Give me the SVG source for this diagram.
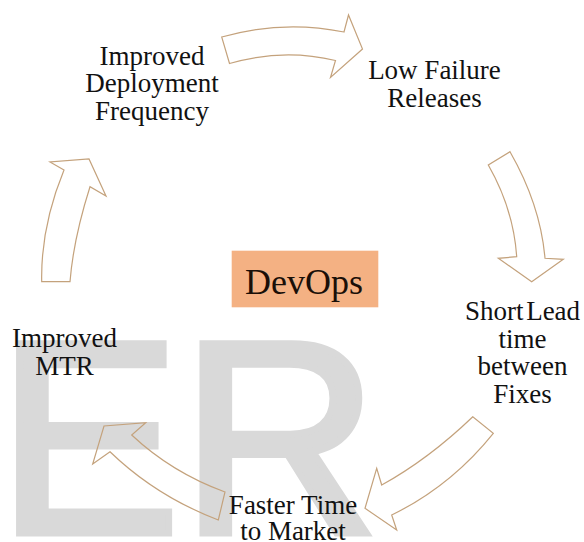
<svg xmlns="http://www.w3.org/2000/svg" width="584" height="542" viewBox="0 0 584 542">
  <defs>
    <style>
      .flow { fill: none; stroke: #c4a27c; stroke-width: 1.2; stroke-linejoin: miter; }
      .lbl { fill: #111111; font-family: 'Liberation Serif', 'Times New Roman', serif; font-size: 27px; text-anchor: middle; }
    </style>
  </defs>

  <rect width="584" height="542" fill="#ffffff"/>

  <!-- background watermark -->
  <text x="-3" y="533" font-family="'Liberation Sans', Arial, sans-serif" font-size="275" fill="#d9d9d9" stroke="#d9d9d9" stroke-width="7">ER</text>

  <!-- block arrows around the cycle -->
  <g id="connectors">
    <path class="flow" d="M221.7,37 Q283,19.5 344,32 L348.5,15 L362.5,49 L330.5,77.5 L335.5,60.5 Q283,48 229.5,63.5 Z"/>
    <path class="flow" d="M510,151.7 Q540.5,205 545,258.3 L563.3,259.3 L531.7,281.7 L498.3,258.3 L516.7,256.7 Q513.5,209 488.3,165 Z"/>
    <path class="flow" d="M493.3,433.3 Q451,486 391.7,515 L396.7,530 L365,508.3 L376.7,468.3 L381.7,485 Q428.7,459 472.8,416.7 Z"/>
    <path class="flow" d="M225,492 Q171.7,472.5 131.7,435 L145.7,422.7 L104,426 L92.7,464 L110,451.7 Q155.8,496 218.3,520 Z"/>
    <path class="flow" d="M41.7,281.7 Q40.6,227 64,170 L50,162 L89,159 L106,196 L90,186.7 Q73.4,239 70,281.7 Z"/>
  </g>

  <g id="node-deployment">
    <text class="lbl" x="152" y="64.5">Improved</text>
    <text class="lbl" x="152" y="92">Deployment</text>
    <text class="lbl" x="152" y="120">Frequency</text>
  </g>

  <g id="node-failure">
    <text class="lbl" x="434.5" y="79">Low Failure</text>
    <text class="lbl" x="434.5" y="106.5">Releases</text>
  </g>

  <g id="node-leadtime">
    <text class="lbl" x="522.5" y="320" word-spacing="-4">Short Lead</text>
    <text class="lbl" x="522.5" y="347.5">time</text>
    <text class="lbl" x="522.5" y="375">between</text>
    <text class="lbl" x="522.5" y="403">Fixes</text>
  </g>

  <g id="node-market">
    <text class="lbl" x="293" y="513.5">Faster Time</text>
    <text class="lbl" x="293" y="540">to Market</text>
  </g>

  <g id="node-mtr">
    <text class="lbl" x="64.5" y="346.5">Improved</text>
    <text class="lbl" x="64.5" y="374.5">MTR</text>
  </g>

  <g id="node-devops">
    <rect x="231.7" y="250.7" width="146.6" height="56.6" fill="#f4b183"/>
    <text class="lbl" x="304" y="294" style="font-size: 36px; fill: #1a0f08">DevOps</text>
  </g>
</svg>
